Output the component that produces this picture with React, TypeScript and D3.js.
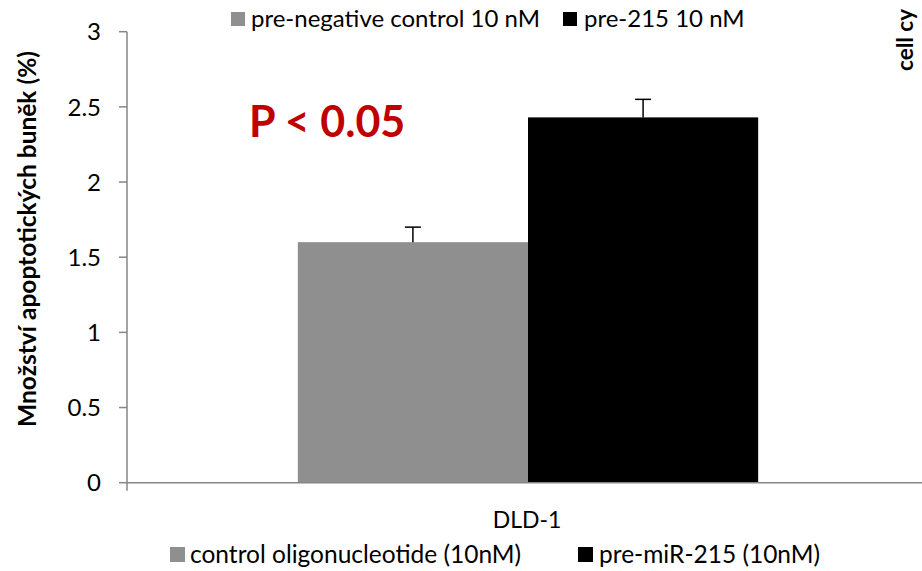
import React from "react";
import * as d3 from "d3";

const categories = ["DLD-1"];
const seriesNames = ["control oligonucleotide (10nM)", "pre-miR-215 (10nM)"];
const topLegendNames = ["pre-negative control 10 nM", "pre-215 10 nM"];
const values = [1.6, 2.43];
const errors = [0.1, 0.12];
const colors = ["#8f8f8f", "#000000"];
const yTicks = [0, 0.5, 1, 1.5, 2, 2.5, 3];

const W = 922;
const H = 571;
const FONT = "Lato, 'Open Sans', sans-serif";

export default function App() {
  const y = d3.scaleLinear().domain([0, 3]).range([482.7, 31.7]);
  const x0 = d3.scaleBand().domain(categories).range([127, 929]).paddingInner(0).paddingOuter(0);
  const groupW = x0.bandwidth() * 0.574;
  const x1 = d3
    .scaleBand()
    .domain(seriesNames)
    .range([0, groupW]);
  const axisColor = "#868686";
  return (
    <div style={{ position: "absolute", left: 0, top: 0, width: W, height: H, overflow: "hidden" }}>
      <svg width={W} height={H} style={{ display: "block", background: "#fff" }} fontFamily={FONT}>
        {/* y axis */}
        <line x1={127} x2={127} y1={y(3)} y2={y(0) + 8} stroke={axisColor} strokeWidth={1.5} />
        {yTicks.map((t) => (
          <g key={t}>
            <line x1={119} x2={127} y1={y(t)} y2={y(t)} stroke={axisColor} strokeWidth={1.5} />
            <text x={101} y={y(t)} dy="0.36em" textAnchor="end" fontSize={24} fill="#000">
              {t}
            </text>
          </g>
        ))}
        {categories.map((c) => {
          const gx = (x0(c) as number) + (x0.bandwidth() - groupW) / 2;
          return (
            <g key={c}>
              {seriesNames.map((s, i) => {
                const bx = gx + (x1(s) as number);
                const bw = x1.bandwidth();
                const cx = bx + bw / 2;
                return (
                  <g key={s}>
                    <rect x={bx} y={y(values[i])} width={bw} height={y(0) - y(values[i])} fill={colors[i]} />
                    <line x1={cx} x2={cx} y1={y(values[i])} y2={y(values[i] + errors[i])} stroke="#000" strokeWidth={1.5} />
                    <line x1={cx - 8} x2={cx + 8} y1={y(values[i] + errors[i])} y2={y(values[i] + errors[i])} stroke="#000" strokeWidth={1.5} />
                  </g>
                );
              })}
              <text x={(x0(c) as number) + x0.bandwidth() / 2 - 1} y={528} textAnchor="middle" fontSize={23} fill="#000">
                {c}
              </text>
            </g>
          );
        })}
        {/* x axis */}
        <line x1={127} x2={W} y1={y(0)} y2={y(0)} stroke={axisColor} strokeWidth={1.5} />

        {/* y title */}
        <text
          transform={`translate(36,239) rotate(-90)`}
          textAnchor="middle"
          fontSize={24.5}
          fontWeight="bold"
          fill="#000"
        >
          Množství apoptotických buněk (%)
        </text>

        {/* P value */}
        <text x={249} y={137} fontSize={43} fontWeight="bold" fill="#c00000">
          P &lt; 0.05
        </text>

        {/* top legend */}
        <rect x={231} y={12} width={14} height={14} fill={colors[0]} />
        <text x={251} y={27} fontSize={24} fill="#000">{topLegendNames[0]}</text>
        <rect x={563} y={12} width={14} height={14} fill={colors[1]} />
        <text x={584} y={27} fontSize={24} fill="#000">{topLegendNames[1]}</text>

        {/* bottom legend */}
        <rect x={170} y={547} width={15} height={15} fill={colors[0]} />
        <text x={190} y={563} fontSize={24.5} fill="#000">{seriesNames[0]}</text>
        <rect x={578} y={547} width={15} height={15} fill={colors[1]} />
        <text x={599} y={563} fontSize={24.5} fill="#000">{seriesNames[1]}</text>

        {/* cropped neighbour chart title */}
        <text transform={`translate(913,71) rotate(-90)`} fontSize={22.5} fontWeight="bold" fill="#000">
          cell cy
        </text>
      </svg>
    </div>
  );
}
